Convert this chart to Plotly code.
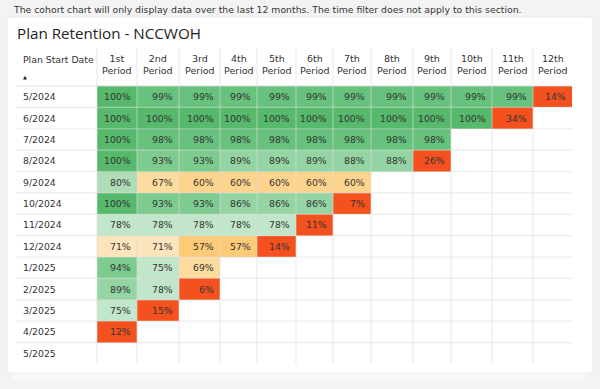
import plotly.graph_objects as go

# ---------------- data ----------------
cohorts = ["5/2024", "6/2024", "7/2024", "8/2024", "9/2024", "10/2024", "11/2024",
           "12/2024", "1/2025", "2/2025", "3/2025", "4/2025", "5/2025"]
periods = ["1st", "2nd", "3rd", "4th", "5th", "6th", "7th", "8th", "9th", "10th", "11th", "12th"]
retention = [
    [100, 99, 99, 99, 99, 99, 99, 99, 99, 99, 99, 14],
    [100, 100, 100, 100, 100, 100, 100, 100, 100, 100, 34],
    [100, 98, 98, 98, 98, 98, 98, 98, 98],
    [100, 93, 93, 89, 89, 89, 88, 88, 26],
    [80, 67, 60, 60, 60, 60, 60],
    [100, 93, 93, 86, 86, 86, 7],
    [78, 78, 78, 78, 78, 11],
    [71, 71, 57, 57, 14],
    [94, 75, 69],
    [89, 78, 6],
    [75, 15],
    [12],
    [],
]
note_text = "The cohort chart will only display data over the last 12 months. The time filter does not apply to this section."
title_text = "Plan Retention - NCCWOH"
row_header = "Plan Start Date"

# ---------------- layout constants (pixels) ----------------
W, H = 600, 389
COL_EDGES = [97, 137, 179, 220, 257, 296, 333, 371, 413, 451, 492, 533, 572]
TABLE_LEFT = 16
HEADER_TOP = 48
HEADER_BOTTOM = 86
ROW_H = 21.38
ROW_EDGES = [HEADER_BOTTOM + i * ROW_H for i in range(len(cohorts) + 1)]
FONT = "DejaVu Sans"
TXT = "#333333"
PAGE_BG = "#f3f3f3"

# stepped colour bins (lower bound, upper bound, colour)
BINS = [
    (0, 50, "#f4511e"),
    (50, 58.5, "#fdca78"),
    (58.5, 64, "#fdd48d"),
    (64, 70, "#fddc9f"),
    (70, 73, "#fde5bb"),
    (73, 79, "#c1e6c9"),
    (79, 84, "#aedcb7"),
    (84, 91, "#95d4a3"),
    (91, 96, "#7ecb8f"),
    (96, 99.5, "#66c27d"),
    (99.5, 100, "#57b96b"),
]
colorscale = []
for lo, hi, c in BINS:
    colorscale.append([lo / 100, c])
    colorscale.append([hi / 100, c])

n_cols = len(periods)
z = [[(row[j] if j < len(row) else None) for j in range(n_cols)] for row in retention]

fig = go.Figure()
fig.add_trace(go.Heatmap(
    x=COL_EDGES, y=ROW_EDGES, z=z,
    colorscale=colorscale, zmin=0, zmax=100, showscale=False,
    hoverinfo="skip", zsmooth=False,
))

shapes = []
# faint band under card / card
shapes.append(dict(type="rect", xref="x", yref="y", x0=12, x1=586, y0=370, y1=380,
                   fillcolor="#f8f8f8", line_width=0, layer="below"))
r = 4
cx0, cx1, cy0, cy1 = 7, 593, 17, 373
path = (f"M{cx0+r},{cy0} L{cx1-r},{cy0} Q{cx1},{cy0} {cx1},{cy0+r} L{cx1},{cy1-r} "
        f"Q{cx1},{cy1} {cx1-r},{cy1} L{cx0+r},{cy1} Q{cx0},{cy1} {cx0},{cy1-r} "
        f"L{cx0},{cy0+r} Q{cx0},{cy0} {cx0+r},{cy0} Z")
shapes.append(dict(type="path", xref="x", yref="y", path=path, fillcolor="white",
                   line=dict(color="#ececec", width=1), layer="below"))

grid = "rgba(220,220,220,0.55)"
for xe in COL_EDGES[:-1]:
    shapes.append(dict(type="line", xref="x", yref="y", x0=xe, x1=xe,
                       y0=HEADER_TOP, y1=ROW_EDGES[-1], line=dict(color=grid, width=1.2)))
for i, ye in enumerate(ROW_EDGES[:-1]):
    shapes.append(dict(type="line", xref="x", yref="y", x0=TABLE_LEFT, x1=COL_EDGES[-1],
                       y0=ye, y1=ye, line=dict(color=grid, width=1.6 if i == 0 else 1.2)))

ann = []
ann.append(dict(x=11, y=9.5, text=note_text, xanchor="left", yanchor="middle",
                font=dict(family=FONT, size=9.3, color=TXT)))
ann.append(dict(x=15, y=33, text=title_text, xanchor="left", yanchor="middle",
                font=dict(family="Open Sans", size=15.2, color="#222222")))
ann.append(dict(x=20.5, y=59, text=row_header, xanchor="left", yanchor="middle",
                font=dict(family=FONT, size=9.3, color=TXT)))
ann.append(dict(x=20.5, y=77, text="▲", xanchor="left", yanchor="middle",
                font=dict(family=FONT, size=5, color="#222222")))
for j, p in enumerate(periods):
    xc = (COL_EDGES[j] + COL_EDGES[j + 1]) / 2
    ann.append(dict(x=xc, y=64.5, text=f"{p}<br>Period", xanchor="center", yanchor="middle",
                    font=dict(family=FONT, size=9.5, color=TXT)))
for i, c in enumerate(cohorts):
    yc = (ROW_EDGES[i] + ROW_EDGES[i + 1]) / 2
    ann.append(dict(x=20.5, y=yc, text=c, xanchor="left", yanchor="middle",
                    font=dict(family=FONT, size=9.3, color=TXT)))
    for j, v in enumerate(retention[i]):
        ann.append(dict(x=COL_EDGES[j + 1] - 4.5, y=yc, text=f"{v}%", xanchor="right",
                        yanchor="middle", font=dict(family=FONT, size=9.3, color=TXT)))

for a in ann:
    a.update(xref="x", yref="y", showarrow=False)

fig.update_layout(
    width=W, height=H, margin=dict(l=0, r=0, t=0, b=0),
    paper_bgcolor=PAGE_BG, plot_bgcolor=PAGE_BG,
    xaxis=dict(range=[0, W], visible=False, fixedrange=True),
    yaxis=dict(range=[H, 0], visible=False, fixedrange=True),
    shapes=shapes, annotations=ann, showlegend=False,
)
fig.write_html(
    "out.html",
    config={"displayModeBar": False},
    post_script="document.body.style.margin='0';document.body.style.background='" + PAGE_BG + "';",
)
